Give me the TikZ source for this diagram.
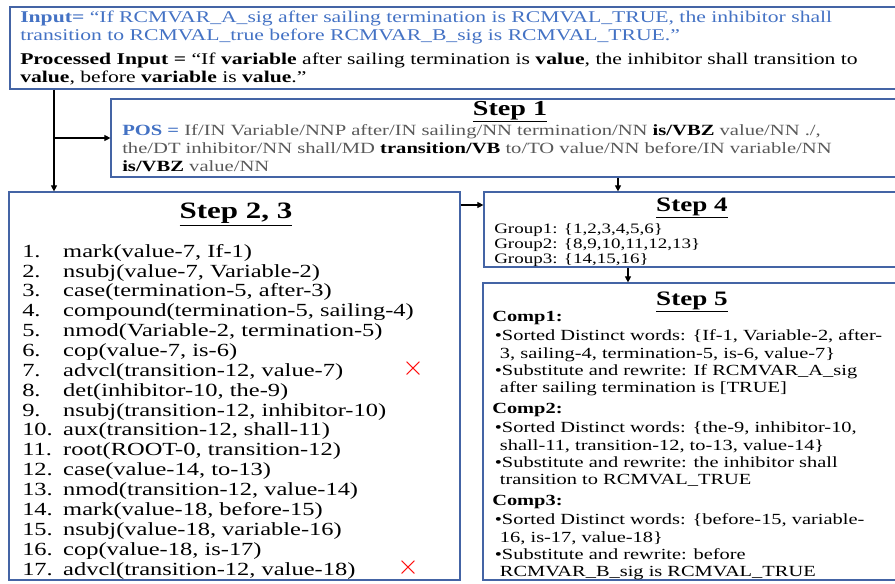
\documentclass[tikz,border=0pt]{standalone}
\usepackage{fontspec}
\setmainfont{Liberation Serif}[FakeStretch=1.32]
\usepackage{xcolor}
\usepackage{tikz}
\usetikzlibrary{arrows.meta,positioning,calc,fit}
\definecolor{inblue}{RGB}{68,114,196}
\definecolor{boxblue}{RGB}{68,100,165}
\definecolor{posgray}{RGB}{89,89,89}
\tikzset{
  stepbox/.style={draw=boxblue, line width=0.9pt, inner sep=0pt, fill=none},
  steptitle/.style={anchor=base, inner sep=0pt, font=\fontsize{16}{18}\selectfont\bfseries},
  steptext/.style={anchor=north west, align=left, inner sep=0pt},
  flowedge/.style={-{Triangle[length=4.5pt,width=4.5pt]}, line width=0.8pt},
  flowline/.style={line width=0.8pt},
  crossmark/.style={text=red, inner sep=0pt, font=\fontsize{20}{20}\selectfont}
}
\newcommand{\sttl}[1]{\underline{#1}}
\begin{document}
\begin{tikzpicture}[x=0.75pt,y=-0.75pt]
  \useasboundingbox (0,0) rectangle (895,583);
  % boxes
  \node[stepbox, fit={(10,7) (898,89)}] (inbox) {};
  \node[stepbox, fit={(111,99) (898,177)}] (step1) {};
  \node[stepbox, fit={(9,192) (460,580)}] (step23) {};
  \node[stepbox, fit={(484,192) (898,267)}] (step4) {};
  \node[stepbox, fit={(483,283) (898,580)}] (step5) {};
  % input
  \node[steptext, font=\fontsize{12.3}{13.3}\selectfont] (intext) at (20,11)
    {\textcolor{inblue}{\textbf{Input=} ``If RCMVAR\_A\_sig after sailing termination is RCMVAL\_TRUE, the inhibitor shall}\\
     \textcolor{inblue}{transition to RCMVAL\_true before RCMVAR\_B\_sig is RCMVAL\_TRUE.''}\\[5pt]
     \textbf{Processed Input =} ``If \textbf{variable} after sailing termination is \textbf{value}, the inhibitor shall transition to\\
     \textbf{value}, before \textbf{variable} is \textbf{value}.''};
  % step 1
  \node[steptitle] (title1) at (510,115) {\sttl{Step 1}};
  \node[steptext, font=\fontsize{11.7}{13.6}\selectfont, text=posgray] (postext) at (122,124)
    {\textcolor{inblue}{\textbf{POS =}} If/IN Variable/NNP after/IN sailing/NN termination/NN \textbf{\color{black}is/VBZ} value/NN ./,\\
     the/DT inhibitor/NN shall/MD \textbf{\color{black}transition/VB} to/TO value/NN before/IN variable/NN\\
     \textbf{\color{black}is/VBZ} value/NN};
  % step 2, 3
  \node[steptitle, font=\fontsize{17.6}{19}\selectfont\bfseries] (title23) at (236,218) {\sttl{Step 2, 3}};
  \node[steptext, font=\fontsize{13.9}{14.9}\selectfont] (deplist) at (22,243)
    {\begin{tabular}{@{}p{30.75pt}@{}l@{}}
     1. & mark(value-7, If-1)\\
     2. & nsubj(value-7, Variable-2)\\
     3. & case(termination-5, after-3)\\
     4. & compound(termination-5, sailing-4)\\
     5. & nmod(Variable-2, termination-5)\\
     6. & cop(value-7, is-6)\\
     7. & advcl(transition-12, value-7)\\
     8. & det(inhibitor-10, the-9)\\
     9. & nsubj(transition-12, inhibitor-10)\\
     10. & aux(transition-12, shall-11)\\
     11. & root(ROOT-0, transition-12)\\
     12. & case(value-14, to-13)\\
     13. & nmod(transition-12, value-14)\\
     14. & mark(value-18, before-15)\\
     15. & nsubj(value-18, variable-16)\\
     16. & cop(value-18, is-17)\\
     17. & advcl(transition-12, value-18)
     \end{tabular}};
  \node[crossmark] (cross7) at (413,369) {$\times$};
  \node[crossmark] (cross17) at (408,568) {$\times$};
  % step 4
  \node[steptitle, font=\fontsize{15.4}{17}\selectfont\bfseries] (title4) at (692,211) {\sttl{Step 4}};
  \node[steptext, font=\fontsize{10.8}{11.25}\selectfont] (groups) at (494,223)
    {Group1: \{1,2,3,4,5,6\}\\
     Group2: \{8,9,10,11,12,13\}\\
     Group3: \{14,15,16\}};
  % step 5
  \node[steptitle, font=\fontsize{15.4}{17}\selectfont\bfseries] (title5) at (692,305) {\sttl{Step 5}};
  \node[steptext, font=\fontsize{11.6}{13}\selectfont] (comps) at (492,311)
    {\textbf{Comp1:}\\[1.5pt]
     \,\textbullet Sorted Distinct words: \{If-1, Variable-2, after-\\
     \ \,3, sailing-4, termination-5, is-6, value-7\}\\
     \,\textbullet Substitute and rewrite: If RCMVAR\_A\_sig\\
     \ \,after sailing termination is [TRUE]\\[2.5pt]
     \textbf{Comp2:}\\[1.5pt]
     \,\textbullet Sorted Distinct words: \{the-9, inhibitor-10,\\
     \ \,shall-11, transition-12, to-13, value-14\}\\
     \,\textbullet Substitute and rewrite: the inhibitor shall\\
     \ \,transition to RCMVAL\_TRUE\\[2.5pt]
     \textbf{Comp3:}\\[1.5pt]
     \,\textbullet Sorted Distinct words: \{before-15, variable-\\
     \ \,16, is-17, value-18\}\\
     \,\textbullet Substitute and rewrite: before\\
     \ \,RCMVAR\_B\_sig is RCMVAL\_TRUE};
  % connectors
  \coordinate (split) at (54,138);
  \draw[flowline] (inbox.south -| split) -- (split);
  \draw[flowedge] (split) -- (step23.north -| split);
  \draw[flowedge] (split) -- (step1.west |- split);
  \draw[flowedge] (step1.south -| 618,0) -- (step4.north -| 618,0);
  \draw[flowedge] (step23.east |- 0,205) -- (step4.west |- 0,205);
  \draw[flowedge] (step4.south -| 628,0) -- (step5.north -| 628,0);
\end{tikzpicture}
\end{document}
